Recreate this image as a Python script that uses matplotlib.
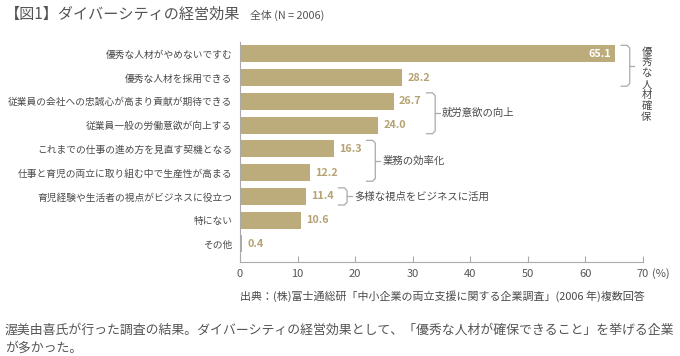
import matplotlib.pyplot as plt
from matplotlib.transforms import offset_copy

plt.rcParams['font.family'] = ['Noto Sans CJK JP', 'DejaVu Sans']

# data
labels = ['優秀な人材がやめないですむ', '優秀な人材を採用できる',
          '従業員の会社への忠誠心が高まり貢献が期待できる', '従業員一般の労働意欲が向上する',
          'これまでの仕事の進め方を見直す契機となる', '仕事と育児の両立に取り組む中で生産性が高まる',
          '育児経験や生活者の視点がビジネスに役立つ', '特にない', 'その他']
values = [65.1, 28.2, 26.7, 24.0, 16.3, 12.2, 11.4, 10.6, 0.4]
xticks = [0, 10, 20, 30, 40, 50, 60, 70]

# groups: (first row, last row, label, vertical?)
groups = [(0, 1, '優秀な人材確保', True),
          (2, 3, '就労意欲の向上', False),
          (4, 5, '業務の効率化', False),
          (6, 6, '多様な視点をビジネスに活用', False)]

bar_color = '#bcab7b'
text_gray = '#4a4a4a'
line_gray = '#aaaaaa'

fig = plt.figure(figsize=(6.8, 3.56), dpi=100)
ax = fig.add_axes([240/680, 1-262/356, 403/680, 220/356])

rows = list(range(len(values)))
ax.barh(rows, values, height=0.72, color=bar_color, left=0)
ax.set_xlim(0, 70)
ax.set_ylim(8.76, -0.5)

ax.set_yticks(rows)
ax.set_yticklabels(labels, fontsize=7.0, color=text_gray)
ax.tick_params(axis='y', length=0, pad=5.5)

ax.set_xticks(xticks)
ax.set_xticklabels([str(t) for t in xticks], fontsize=8, color='#555555')
ax.tick_params(axis='x', direction='in', length=4, color=line_gray, width=0.8, pad=5)

for s in ['top', 'right']:
    ax.spines[s].set_visible(False)
ax.spines['left'].set_color(line_gray)
ax.spines['bottom'].set_color(line_gray)
ax.spines['left'].set_linewidth(0.8)
ax.spines['bottom'].set_linewidth(0.8)

ax.text(70, 0, '(%)', transform=offset_copy(ax.get_xaxis_transform(), fig=fig, x=9, y=-12, units='dots'),
        fontsize=8, color='#555555', ha='left', va='center', clip_on=False)

# value labels
inside = []
for i, v in enumerate(values):
    if v > 50:
        ax.text(v - 0.6, i, f'{v:.1f}', color='white', fontsize=7.8, fontweight='bold',
                ha='right', va='center')
        inside.append(True)
    else:
        ax.text(v + 0.9, i, f'{v:.1f}', color='#b5a272', fontsize=7.8, fontweight='bold',
                ha='left', va='center')
        inside.append(False)

# brackets
for a, b, name, vertical in groups:
    top = a - 0.36
    bot = b + 0.36
    mx = max(values[a:b + 1])
    x0 = mx + (1.1 if inside[values.index(mx)] else 5.7)
    w = 1.5
    ax.plot([x0, x0 + w * 0.7, x0 + w, x0 + w, x0 + w * 0.7, x0],
            [top, top, top + 0.12, bot - 0.12, bot, bot],
            color=line_gray, lw=0.9, clip_on=False, solid_joinstyle='round')
    mid = (top + bot) / 2
    ax.plot([x0 + w, x0 + w + 0.8], [mid, mid], color=line_gray, lw=0.9, clip_on=False)
    if vertical:
        ax.text(x0 + w + 2.9, top + 0.05, '\n'.join(name), fontsize=7.5, color=text_gray,
                ha='center', va='top', linespacing=1.12, clip_on=False)
    else:
        ax.text(x0 + w + 1.2, mid, name, fontsize=7.5, color=text_gray,
                ha='left', va='center', clip_on=False)

# titles and notes
fig.text(5/680, 1-14/356, '【図1】ダイバーシティの経営効果', fontsize=10.9, color='#555555',
         ha='left', va='center')
fig.text(250/680, 1-15/356, '全体 (N = 2006)', fontsize=7.8, color='#555555',
         ha='left', va='center')
fig.text(240/680, 1-296/356, '出典：(株)富士通総研「中小企業の両立支援に関する企業調査」(2006 年)複数回答',
         fontsize=7.9, color=text_gray, ha='left', va='center')
fig.text(5/680, 1-330/356,
         '渥美由喜氏が行った調査の結果。ダイバーシティの経営効果として、「優秀な人材が確保できること」を挙げる企業',
         fontsize=9.3, color='#555555', ha='left', va='center')
fig.text(5/680, 1-348/356, 'が多かった。', fontsize=9.3, color='#555555', ha='left', va='center')

fig.savefig('out.png', dpi=100)
